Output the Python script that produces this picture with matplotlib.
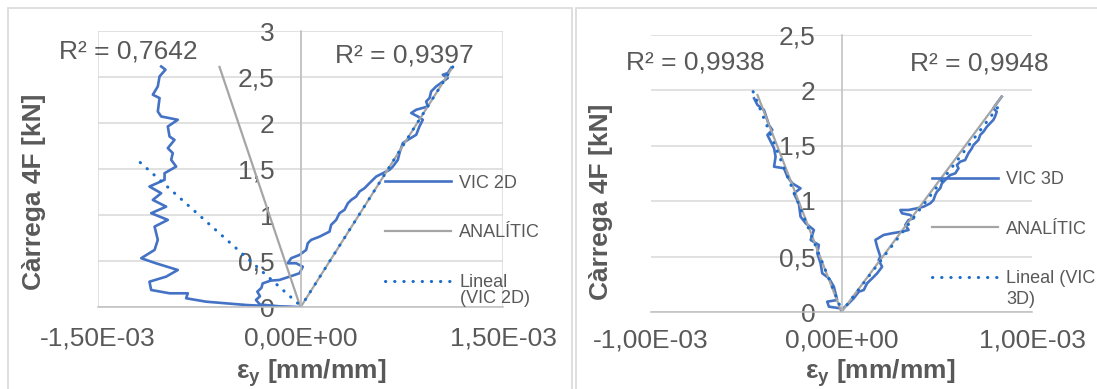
import numpy as np
import matplotlib
matplotlib.use("Agg")
import matplotlib.pyplot as plt
from matplotlib.patches import Rectangle
from matplotlib.ticker import FuncFormatter

plt.rcParams['font.family'] = ['Liberation Sans', 'DejaVu Sans']
plt.rcParams['mathtext.fontset'] = 'custom'
plt.rcParams['mathtext.rm'] = 'Liberation Sans'
plt.rcParams['mathtext.bf'] = 'Liberation Sans:bold'

# strain values in 1e-3 mm/mm, load in kN
# --- left chart: VIC 2D ---
neg2d_x = [0, -0.156, -0.402, -0.699, -0.847, -0.835, -0.970, -1.106, -1.119, -0.995,
           -0.909, -1.071, -1.180, -1.081, -1.057, -1.081, -0.983, -1.106, -0.995, -1.094,
           -1.032, -1.119, -1.007, -1.007, -0.921, -0.958, -0.946, -0.983, -0.933, -0.970,
           -0.983, -0.909, -1.032, -1.057, -1.044, -1.094, -1.057, -1.044, -1.0, -1.032]
neg2d_y = [0, 0.007, 0.025, 0.061, 0.098, 0.152, 0.152, 0.188, 0.278, 0.333,
           0.405, 0.478, 0.533, 0.623, 0.732, 0.876, 0.949, 1.022, 1.093, 1.166,
           1.239, 1.311, 1.384, 1.456, 1.528, 1.601, 1.674, 1.728, 1.818, 1.854,
           1.963, 2.036, 2.072, 2.126, 2.272, 2.308, 2.398, 2.507, 2.58, 2.615]

pos2d_x = [0, -0.15, -0.30, -0.33, -0.30, -0.32, -0.29, -0.28, -0.22, -0.156,
           -0.081, -0.007, 0.017, -0.032, -0.094, -0.069, -0.007, 0.042, 0.054, 0.079,
           0.141, 0.215, 0.227, 0.264, 0.289, 0.326, 0.351, 0.376, 0.412, 0.437,
           0.474, 0.511, 0.561, 0.610, 0.659, 0.684, 0.721, 0.733, 0.758, 0.795,
           0.857, 0.881, 0.906, 0.869, 0.820, 0.857, 0.943, 0.931, 0.956, 0.968,
           1.005, 1.091, 1.054, 1.091, 1.116]
pos2d_y = [0, 0.01, 0.03, 0.08, 0.12, 0.17, 0.21, 0.26, 0.29, 0.297,
           0.333, 0.370, 0.441, 0.478, 0.478, 0.533, 0.569, 0.623, 0.696, 0.732,
           0.767, 0.822, 0.895, 0.949, 1.022, 1.058, 1.130, 1.166, 1.202, 1.257,
           1.293, 1.348, 1.420, 1.456, 1.492, 1.528, 1.601, 1.674, 1.783, 1.818,
           1.873, 1.963, 2.036, 2.072, 2.109, 2.145, 2.18, 2.235, 2.272, 2.344,
           2.398, 2.489, 2.525, 2.543, 2.60]

ana2d_x = [-0.60, 0, 1.128]
ana2d_y = [2.61, 0, 2.61]
trend2d_neg_x = [-1.187, 0.0]
trend2d_neg_y = [1.572, 0.017]
trend2d_pos_x = [0.0, 1.128]
trend2d_pos_y = [0.0, 2.61]

# --- right chart: VIC 3D ---
neg3d_x = [0, -0.005, -0.066, -0.075, -0.023, -0.040, -0.066, -0.101, -0.110, -0.127,
           -0.119, -0.162, -0.145, -0.188, -0.215, -0.224, -0.25, -0.215, -0.258, -0.284,
           -0.302, -0.354, -0.346, -0.354, -0.389, -0.363, -0.381, -0.407, -0.441, -0.459]
neg3d_y = [0.01, 0.033, 0.048, 0.093, 0.108, 0.228, 0.304, 0.349, 0.439, 0.529,
           0.604, 0.649, 0.739, 0.799, 0.859, 0.979, 1.069, 1.114, 1.159, 1.219,
           1.295, 1.309, 1.399, 1.475, 1.595, 1.64, 1.685, 1.82, 1.865, 1.925]

pos3d_x = [0, 0.038, 0.064, 0.091, 0.117, 0.134, 0.161, 0.187, 0.213, 0.195,
           0.204, 0.187, 0.178, 0.221, 0.265, 0.318, 0.352, 0.335, 0.352, 0.379,
           0.361, 0.318, 0.309, 0.352, 0.396, 0.431, 0.466, 0.483, 0.492, 0.501,
           0.518, 0.527, 0.553, 0.571, 0.597, 0.614, 0.606, 0.623, 0.649, 0.666,
           0.684, 0.693, 0.719, 0.728, 0.745, 0.763, 0.780, 0.797, 0.806, 0.815,
           0.797, 0.815, 0.841]
pos3d_y = [0.018, 0.078, 0.123, 0.183, 0.198, 0.258, 0.303, 0.348, 0.408, 0.468,
           0.498, 0.588, 0.649, 0.694, 0.709, 0.724, 0.739, 0.784, 0.829, 0.844,
           0.874, 0.889, 0.919, 0.919, 0.934, 0.949, 0.979, 1.009, 1.054, 1.084,
           1.114, 1.159, 1.204, 1.234, 1.249, 1.294, 1.324, 1.354, 1.369, 1.429,
           1.474, 1.505, 1.550, 1.595, 1.624, 1.669, 1.700, 1.730, 1.760, 1.805,
           1.835, 1.880, 1.940]

ana3d_x = [-0.441, 0, 0.841]
ana3d_y = [1.955, 0, 1.94]
trend3d_neg_x = [-0.464, 0.0]
trend3d_neg_y = [1.985, 0.02]
trend3d_pos_x = [0.0, 0.841]
trend3d_pos_y = [0.0, 1.89]

r2_labels = ["R² = 0,7642", "R² = 0,9397", "R² = 0,9938", "R² = 0,9948"]
# trendline legend text is wrapped by Excel: first line in legend, rest below
trend_label_2d = ["Lineal", "(VIC 2D)"]
trend_label_3d = ["Lineal (VIC", "3D)"]

# styles
blue = '#4472C4'
dotblue = '#1C6DC9'
gray = '#A5A5A5'
txt = '#595959'
W, H = 1097, 389
e = 1e-3

fig = plt.figure(figsize=(W / 100, H / 100), dpi=100)

# chart borders
fig.add_artist(Rectangle((8 / W, -0.1), (572 - 8) / W, 1.1 - 8 / H,
                         transform=fig.transFigure, fill=False, ec='#D9D9D9', lw=1.2))
fig.add_artist(Rectangle((576 / W, -0.1), 0.6, 1.1 - 8 / H,
                         transform=fig.transFigure, fill=False, ec='#D9D9D9', lw=1.2))

ax1 = fig.add_axes([98 / W, (H - 307.3) / H, 405 / W, 276.3 / H])
ax2 = fig.add_axes([651 / W, (H - 312) / H, 381 / W, 277.5 / H])

sci = FuncFormatter(lambda v, p: f"{v:.2E}".replace('.', ','))
dec = FuncFormatter(lambda v, p: f"{v:g}".replace('.', ','))


def draw(ax, negx, negy, posx, posy, anax, anay, tnx, tny, tpx, tpy, name, tlab):
    ax.plot(np.array(negx) * e, negy, color=blue, lw=1.9, label='_nolegend_')
    ax.plot(np.array(posx) * e, posy, color=blue, lw=1.9, label=name)
    ax.plot(np.array(anax) * e, anay, color=gray, lw=1.6, label='ANALÍTIC')
    ax.plot(np.array(tnx) * e, tny, color=dotblue, lw=2.2, ls=(0, (0.1, 2.9)),
            dash_capstyle='round', label='_nolegend_')
    ax.plot(np.array(tpx) * e, tpy, color=dotblue, lw=2.2, ls=(0, (0.1, 2.9)),
            dash_capstyle='round', label=tlab)


def style(ax, xlim, ymax, vgrid, xpad):
    ax.set_xlim(-xlim, xlim)
    ax.set_ylim(0, ymax)
    ax.set_xticks([-xlim, 0, xlim])
    ax.set_yticks(np.arange(0, ymax + 0.01, 0.5))
    ax.xaxis.set_major_formatter(sci)
    ax.yaxis.set_major_formatter(dec)
    for s in ['top', 'right']:
        ax.spines[s].set_visible(False)
    ax.spines['left'].set_position(('data', 0))
    for s in ['left', 'bottom']:
        ax.spines[s].set_color('#BFBFBF')
        ax.spines[s].set_linewidth(1.1)
    ax.tick_params(axis='both', length=0, labelsize=19, colors=txt)
    ax.tick_params(axis='y', pad=18.5)
    ax.tick_params(axis='x', pad=xpad)
    ax.grid(axis='y', color='#D9D9D9', lw=1.1)
    if vgrid:
        ax.grid(axis='x', color='#D9D9D9', lw=1.1)
    ax.set_axisbelow(True)
    ax.patch.set_alpha(0)


draw(ax1, neg2d_x, neg2d_y, pos2d_x, pos2d_y, ana2d_x, ana2d_y,
     trend2d_neg_x, trend2d_neg_y, trend2d_pos_x, trend2d_pos_y, 'VIC 2D', trend_label_2d[0])
draw(ax2, neg3d_x, neg3d_y, pos3d_x, pos3d_y, ana3d_x, ana3d_y,
     trend3d_neg_x, trend3d_neg_y, trend3d_pos_x, trend3d_pos_y, 'VIC 3D', trend_label_3d[0])
style(ax1, 1.5e-3, 3, True, 13.8)
style(ax2, 1.0e-3, 2.5, False, 11.9)

for ax, xc, yc, yx, yy in [(ax1, 0.526, -0.238, -0.158, 0.419),
                           (ax2, 0.601, -0.220, -0.131, 0.396)]:
    ax.set_xlabel(r'ε$_\mathbf{y}$ [mm/mm]', fontsize=19, fontweight='bold',
                  color=txt, va='center')
    ax.xaxis.set_label_coords(xc, yc)
    ax.set_ylabel('Càrrega 4F [kN]', fontsize=19, fontweight='bold',
                  color=txt, va='center')
    ax.yaxis.set_label_coords(yx, yy)

ax1.text(-0.096, 0.924, r2_labels[0], transform=ax1.transAxes, fontsize=19,
         color=txt, ha='left', va='center')
ax1.text(0.585, 0.913, r2_labels[1], transform=ax1.transAxes, fontsize=19,
         color=txt, ha='left', va='center')
ax2.text(-0.066, 0.899, r2_labels[2], transform=ax2.transAxes, fontsize=19,
         color=txt, ha='left', va='center')
ax2.text(0.680, 0.897, r2_labels[3], transform=ax2.transAxes, fontsize=19,
         color=txt, ha='left', va='center')

for ax, anchor in [(ax1, (385 / W, 1 - 174.7 / H)), (ax2, (931.7 / W, 1 - 171 / H))]:
    ax.legend(loc='upper left', bbox_to_anchor=anchor,
              bbox_transform=fig.transFigure, frameon=False, fontsize=13,
              borderpad=0, borderaxespad=0, handlelength=3.65,
              handletextpad=0.46, labelspacing=1.81, labelcolor=txt)

# wrapped second line of the trendline legend entry
fig.text(460 / W, 1 - 298.5 / H, trend_label_2d[1], fontsize=13, color=txt,
         ha='left', va='center')
fig.text(1006.5 / W, 1 - 300 / H, trend_label_3d[1], fontsize=13, color=txt,
         ha='left', va='center')

fig.savefig('out.png', dpi=100)
